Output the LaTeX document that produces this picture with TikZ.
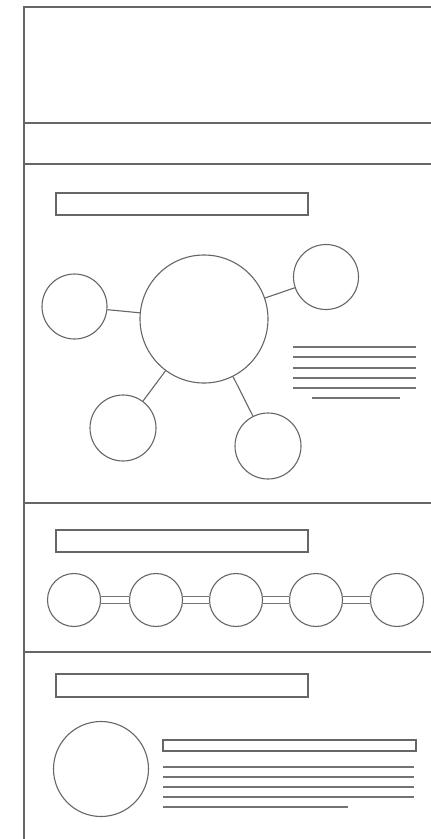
\documentclass[tikz,border=0pt]{standalone}
\begin{document}
\begin{tikzpicture}[x=1pt,y=-1pt,
  frame/.style={draw=black!60,line width=1.3pt},
  bub/.style={circle,draw=black!60,line width=1.1pt,inner sep=0pt,fill=white},
  titlebox/.style={draw=black!60,line width=1.1pt},
  txt/.style={draw=black!55,line width=1.4pt},
  link/.style={draw=black!60,line width=1.1pt},
  rail/.style={draw=black!55,line width=1pt}]
\useasboundingbox (0,0) rectangle (431,839);
\fill[white] (0,0) rectangle (431,839);
% frame
\draw[frame] (431,7) -- (24,7) -- (24,839);
\draw[frame] (24,123) -- (431,123);
\draw[frame] (24,164) -- (431,164);
\draw[frame] (24,503) -- (431,503);
\draw[frame] (24,652) -- (431,652);
% section 2
\draw[titlebox] (56,193) rectangle (308,215);
\node[bub,minimum size=128pt] (c0) at (204,319) {};
\node[bub,minimum size=65pt] (c1) at (74.5,306.5) {};
\node[bub,minimum size=65pt] (c2) at (326,277) {};
\node[bub,minimum size=66pt] (c3) at (123,428) {};
\node[bub,minimum size=66pt] (c4) at (268,446) {};
\draw[link] (c0) -- (c1);
\draw[link] (c0) -- (c2);
\draw[link] (c0) -- (c3);
\draw[link] (c0) -- (c4);
\foreach \y in {347,357,368,378,388} \draw[txt] (293,\y) -- (416,\y);
\draw[txt] (312,398) -- (400,398);
% section 3
\draw[titlebox] (56,530) rectangle (308,552);
\node[bub,minimum size=53pt] (d1) at (74,600) {};
\node[bub,minimum size=53pt] (d2) at (156,600) {};
\node[bub,minimum size=53pt] (d3) at (236,600) {};
\node[bub,minimum size=53pt] (d4) at (316,600) {};
\node[bub,minimum size=53pt] (d5) at (397,600) {};
\foreach \a/\b in {d1/d2,d2/d3,d3/d4,d4/d5}{
  \draw[rail] ([yshift=3.5pt]\a.east) -- ([yshift=3.5pt]\b.west);
  \draw[rail] ([yshift=-3.5pt]\a.east) -- ([yshift=-3.5pt]\b.west);
}
% section 4
\draw[titlebox] (56,674) rectangle (308,697);
\node[bub,minimum size=95pt] (e1) at (101,769) {};
\draw[titlebox] (163,740) rectangle (416,751);
\foreach \y in {767,777,787,797} \draw[txt] (163,\y) -- (414,\y);
\draw[txt] (163,807) -- (348,807);
\end{tikzpicture}
\end{document}
